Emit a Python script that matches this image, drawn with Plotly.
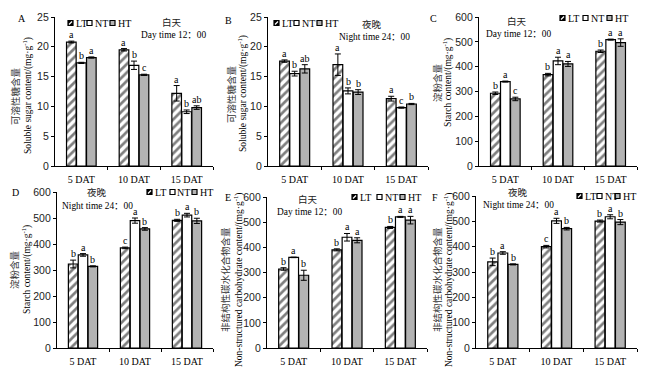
import plotly.graph_objects as go

W, H = 651, 375
OFF = 8                      # default page body margin
FW, FH = W - 2 * OFF, H - 2 * OFF

categories = ["5 DAT", "10 DAT", "15 DAT"]
treatments = ["LT", "NT", "HT"]

# Panel A: soluble sugar, day
A_LT = [20.8, 19.5, 12.2]; A_LT_err = [0.15, 0.2, 1.3]
A_NT = [17.3, 16.9, 9.1];  A_NT_err = [0.1, 0.7, 0.3]
A_HT = [18.2, 15.3, 9.8];  A_HT_err = [0.1, 0.1, 0.3]
A_letters = [["a", "a", "a"], ["b", "b", "b"], ["a", "c", "ab"]]

# Panel B: soluble sugar, night
B_LT = [17.6, 17.0, 11.3]; B_LT_err = [0.2, 1.8, 0.4]
B_NT = [15.5, 12.6, 9.8];  B_NT_err = [0.4, 0.5, 0.1]
B_HT = [16.3, 12.4, 10.4]; B_HT_err = [0.7, 0.4, 0.1]
B_letters = [["a", "a", "a"], ["b", "b", "c"], ["ab", "b", "b"]]

# Panel C: starch, day
C_LT = [293, 368, 462]; C_LT_err = [5, 5, 5]
C_NT = [340, 423, 509]; C_NT_err = [2, 15, 2]
C_HT = [270, 411, 497]; C_HT_err = [7, 10, 15]
C_letters = [["b", "b", "b"], ["a", "a", "a"], ["c", "a", "a"]]

# Panel D: starch, night
D_LT = [323, 385, 491]; D_LT_err = [15, 3, 4]
D_NT = [358, 490, 511]; D_NT_err = [5, 10, 7]
D_HT = [314, 458, 489]; D_HT_err = [2, 5, 10]
D_letters = [["b", "c", "b"], ["a", "a", "a"], ["b", "b", "b"]]

# Panel E: NSC, day
E_LT = [314, 390, 479]; E_LT_err = [5, 4, 4]
E_NT = [360, 440, 521]; E_NT_err = [1, 15, 2]
E_HT = [289, 428, 508]; E_HT_err = [20, 10, 15]
E_letters = [["b", "b", "b"], ["a", "a", "a"], ["b", "a", "a"]]

# Panel F: NSC, night
F_LT = [340, 400, 501]; F_LT_err = [15, 5, 4]
F_NT = [375, 502, 518]; F_NT_err = [5, 10, 8]
F_HT = [330, 471, 497]; F_HT_err = [2, 5, 10]
F_letters = [["b", "c", "b"], ["a", "a", "a"], ["b", "b", "b"]]

y_ticks_sugar = [0, 5, 10, 15, 20, 25]
y_ticks_600 = [0, 100, 200, 300, 400, 500, 600]

SERIF = "Times New Roman, Liberation Serif, Noto Sans CJK SC, serif"
SANS = "Arial, Liberation Sans, sans-serif"
CJK = "Noto Sans CJK SC, sans-serif"

panels = [
    dict(key="A", vals=[(A_LT, A_LT_err), (A_NT, A_NT_err), (A_HT, A_HT_err)], letters=A_letters,
         yr=[0, 25], ticks=y_ticks_sugar, box=(55, 213, 17, 166),
         zh="可溶性糖含量", en="Soluble sugar content/(mg·g<sup>-1</sup>)", ttl=(15, 28, 96),
         lab=(22, 19), leg=([68, 87, 110], 23),
         t1="白天", t2="Day time 12：00", tpos=(172, 22, 173, 35)),
    dict(key="B", vals=[(B_LT, B_LT_err), (B_NT, B_NT_err), (B_HT, B_HT_err)], letters=B_letters,
         yr=[0, 25], ticks=y_ticks_sugar, box=(268, 428, 17, 166),
         zh="可溶性糖含量", en="Soluble sugar content/(mg·g<sup>-1</sup>)", ttl=(231, 243, 94),
         lab=(228, 20), leg=([274, 294, 317], 23),
         t1="夜晚", t2="Night time 24：00", tpos=(372, 24, 374, 37)),
    dict(key="C", vals=[(C_LT, C_LT_err), (C_NT, C_NT_err), (C_HT, C_HT_err)], letters=C_letters,
         yr=[0, 600], ticks=y_ticks_600, box=(479, 637, 17, 166),
         zh="淀粉含量", en="Starch content/(mg·g<sup>-1</sup>)", ttl=(437, 448, 83),
         lab=(433, 18), leg=([560, 583, 607], 18),
         t1="白天", t2="Day time 12：00", tpos=(517, 21, 518, 34)),
    dict(key="D", vals=[(D_LT, D_LT_err), (D_NT, D_NT_err), (D_HT, D_HT_err)], letters=D_letters,
         yr=[0, 600], ticks=y_ticks_600, box=(57, 213, 192, 348),
         zh="淀粉含量", en="Starch content/(mg·g<sup>-1</sup>)", ttl=(14, 26, 270),
         lab=(15, 192), leg=([147, 170, 192], 192),
         t1="夜晚", t2="Night time 24：00", tpos=(97, 192, 97, 206)),
    dict(key="E", vals=[(E_LT, E_LT_err), (E_NT, E_NT_err), (E_HT, E_HT_err)], letters=E_letters,
         yr=[0, 600], ticks=y_ticks_600, box=(267, 427, 197, 348),
         zh="非结构性碳水化合物含量", en="Non-structured carbohydrate content/(mg·g<sup>-1</sup>)", ttl=(225, 238, 280),
         lab=(228, 197), leg=([352, 377, 400], 197),
         t1="白天", t2="Day time 12：00", tpos=(308, 199, 309, 212)),
    dict(key="F", vals=[(F_LT, F_LT_err), (F_NT, F_NT_err), (F_HT, F_HT_err)], letters=F_letters,
         yr=[0, 600], ticks=y_ticks_600, box=(476, 637, 196, 348),
         zh="非结构性碳水化合物含量", en="Non-structured carbohydrate content/(mg·g<sup>-1</sup>)", ttl=(437, 448, 280),
         lab=(435, 197), leg=([577, 597, 615], 196),
         t1="夜晚", t2="Night time 24：00", tpos=(518, 192, 518, 205)),
]

BARGAP = 0.43
GRAY = "#b3b3b3"
styles = [
    dict(color="white", line=dict(color="black", width=1.2),
         pattern=dict(shape="/", fgcolor="black", bgcolor="white", size=6, solidity=0.45)),
    dict(color="white", line=dict(color="black", width=1.2)),
    dict(color=GRAY, line=dict(color="black", width=1.2)),
]

px = lambda x: (x - OFF) / FW
py = lambda y: 1 - (y - OFF) / FH


def note(x, y, text, font, angle=0, xanchor="center"):
    return dict(x=px(x), y=py(y), xref="paper", yref="paper", text=text, textangle=angle,
                showarrow=False, xanchor=xanchor, yanchor="middle", font=font)


fig = go.Figure()
annotations = []
shapes = []
layout_axes = {}
xpos = list(range(len(categories)))

for i, p in enumerate(panels):
    n = "" if i == 0 else str(i + 1)
    xa, ya = "x" + n, "y" + n
    for j, (vals, err) in enumerate(p["vals"]):
        fig.add_trace(go.Bar(
            x=xpos, y=vals, name=treatments[j], showlegend=False,
            xaxis=xa, yaxis=ya, marker=styles[j],
            error_y=dict(type="data", array=err, color="black", thickness=1, width=3),
        ))
        off = (j - 1) * (1 - BARGAP) / 3
        for k in range(len(categories)):
            annotations.append(dict(
                x=xpos[k] + off, y=vals[k] + err[k], xref=xa, yref=ya,
                text=p["letters"][j][k], showarrow=False, xanchor="center", yanchor="bottom", yshift=-1,
                font=dict(family=SERIF, size=10, color="black")))
    x0, x1, y0, y1 = p["box"]
    layout_axes["xaxis" + n] = dict(
        domain=[px(x0), px(x1)], anchor=ya, range=[-0.5, 2.5], automargin=False,
        tickmode="array", tickvals=xpos, ticktext=categories, ticks="",
        showline=True, linecolor="black", linewidth=1.3, showgrid=False, zeroline=False,
        tickfont=dict(family=SERIF, size=10, color="black"), ticklabelstandoff=4,
        minor=dict(tickmode="array", tickvals=[0.5, 1.5, 2.5], ticks="outside",
                   ticklen=3, tickcolor="black", tickwidth=1, showgrid=False),
        fixedrange=True)
    layout_axes["yaxis" + n] = dict(
        domain=[py(y1), py(y0)], anchor=xa, range=p["yr"], automargin=False,
        tickmode="array", tickvals=p["ticks"], ticks="outside", ticklen=3,
        tickcolor="black", tickwidth=1,
        showline=True, linecolor="black", linewidth=1.3, showgrid=False, zeroline=False,
        tickfont=dict(family=SANS, size=10.5, color="#222"),
        fixedrange=True)
    # axis titles
    zx, ex, ty = p["ttl"]
    annotations.append(note(zx, ty, p["zh"], dict(family=CJK, size=9.5, color="#333"), angle=-90))
    annotations.append(note(ex, ty, p["en"], dict(family=SERIF, size=9.5, color="black"), angle=-90))
    # panel label
    lx, ly = p["lab"]
    annotations.append(note(lx, ly, p["key"], dict(family=SERIF, size=10, color="black")))
    # condition text
    a1x, a1y, a2x, a2y = p["tpos"]
    annotations.append(note(a1x, a1y, p["t1"], dict(family=CJK, size=9.5, color="#222")))
    annotations.append(note(a2x, a2y, p["t2"], dict(family=SERIF, size=9.4, color="black")))
    # custom legend
    lxs, lyc = p["leg"]
    s = 5
    for j, lx0 in enumerate(lxs):
        fill = ["black", "white", GRAY][j]
        shapes.append(dict(type="rect", xref="paper", yref="paper",
                           x0=px(lx0), x1=px(lx0 + s), y0=py(lyc + s / 2), y1=py(lyc - s / 2),
                           fillcolor=fill, line=dict(color="black", width=1.2)))
        if j == 0:
            shapes.append(dict(type="line", xref="paper", yref="paper",
                               x0=px(lx0 + 1), x1=px(lx0 + s - 1), y0=py(lyc + s / 2 - 1), y1=py(lyc - s / 2 + 1),
                               line=dict(color="white", width=1.2)))
        annotations.append(note(lx0 + s + 0.5, lyc, treatments[j],
                                dict(family=SERIF, size=10, color="black"), xanchor="left"))

fig.update_layout(
    width=FW, height=FH, margin=dict(l=0, r=0, t=0, b=0, autoexpand=False),
    paper_bgcolor="white", plot_bgcolor="white",
    barmode="group", bargap=BARGAP, bargroupgap=0.04,
    showlegend=False, annotations=annotations, shapes=shapes,
    **layout_axes)

fig.write_html("out.html")
